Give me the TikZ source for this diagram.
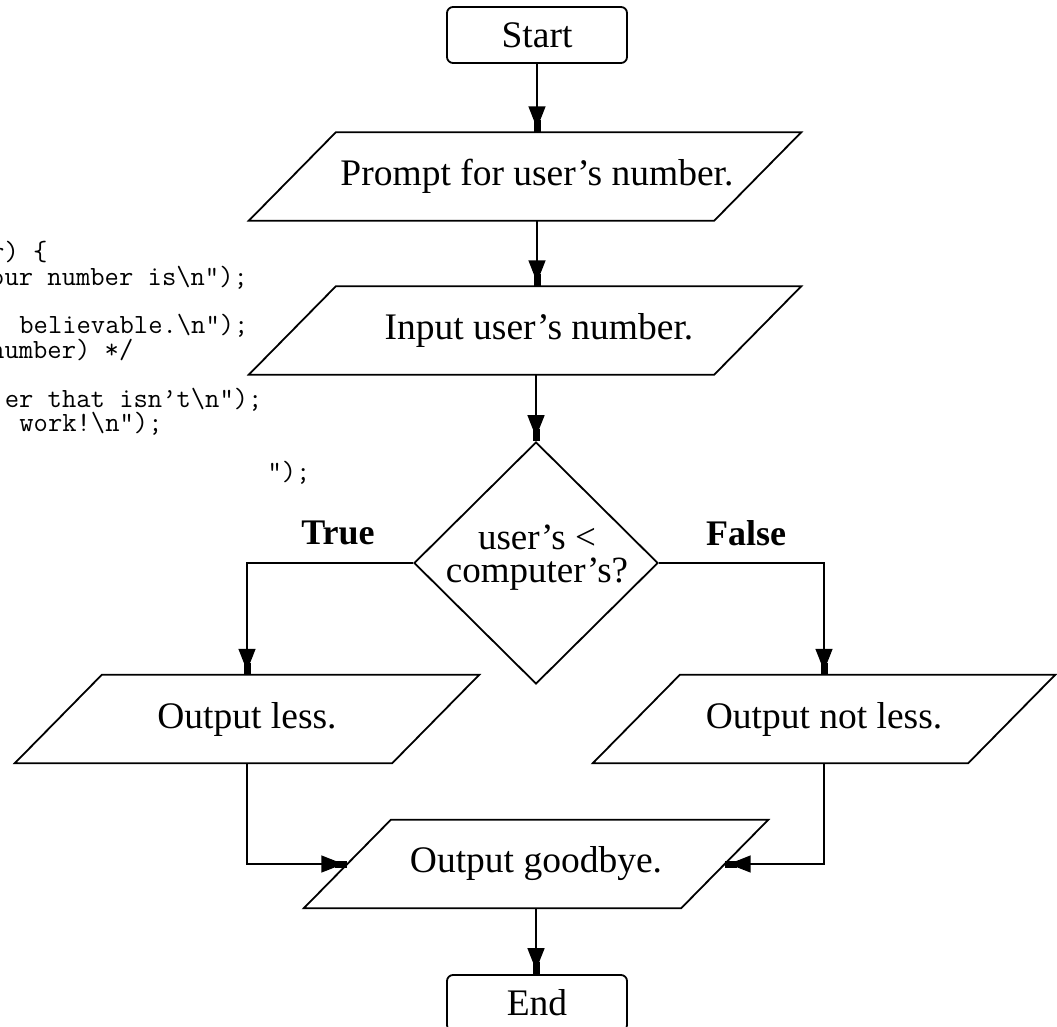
\documentclass[tikz,border=0pt]{standalone}
\usepackage{fontspec}
\setmainfont{Liberation Serif}
\usetikzlibrary{arrows.meta,shapes.geometric}

\tikzset{
  flowline/.style={line width=1.5pt},
  arr/.style={flowline, -{Triangle[width=17pt,length=22pt,sep=-8pt]Square[width=7pt,length=12pt]}},
  outline/.style={line width=1.8pt, line join=miter},
  terminal/.style={draw, outline, rounded corners=6pt, minimum width=180pt,
    minimum height=56pt, inner sep=0pt, font=\fontsize{37.5}{40}\selectfont},
  iobody/.style={minimum height=88pt, inner sep=0pt},
  iotext/.style={inner sep=0pt, font=\fontsize{37.5}{40}\selectfont},
  decision/.style={draw, outline, diamond, minimum width=244pt, minimum height=242pt, inner sep=0pt},
  dectext/.style={align=center, inner sep=0pt, font=\fontsize{37}{33}\selectfont},
  branch/.style={inner sep=0pt, font=\bfseries\fontsize{36}{40}\selectfont},
  code/.style={anchor=base west, inner sep=0pt, font=\ttfamily\fontsize{27.8}{24.4}\selectfont},
}

% input/output box: a parallelogram around a named body node
\newcommand\slantframe[1]{%
  \draw[outline] ([xshift=-43.5pt]#1.south west) -- ([xshift=-43.5pt]#1.south east)
    -- ([xshift=43.5pt]#1.north east) -- ([xshift=43.5pt]#1.north west) -- cycle;}

\begin{document}
\begin{tikzpicture}[x=1pt,y=-1pt]
  \fill[white] (0,0) rectangle (1057,1027);
  \useasboundingbox (0,0) rectangle (1057,1027);

  % program listing beside the chart (monospaced columns 14.6pt wide)
  \node[code] (c0) at (-10,260.5) {r) \{};
  \node[code] (c1) at (-10,285) {our number is\textbackslash n");};
  \node[code] (c3) at (19.2,333.5) {believable.\textbackslash n");};
  \node[code] (c4) at (-10,358) {number) */};
  \node[code] (c6) at (4.6,407) {er that isn’t\textbackslash n");};
  \node[code] (c7) at (19.2,431.5) {work!\textbackslash n");};
  \node[code] (c9) at (267.4,480) {");};

  % flowchart
  \node[terminal] (start) at (537,35) {Start};

  \node[iobody, minimum width=465pt] (prompt) at (525,176.5) {};
  \slantframe{prompt}
  \node[iotext] (promptlabel) at ([xshift=12pt]prompt.center) {Prompt for user’s number.};

  \node[iobody, minimum width=465pt] (input) at (525,330.5) {};
  \slantframe{input}
  \node[iotext] (inputlabel) at ([xshift=14pt]input.center) {Input user’s number.};

  \node[decision] (dec) at (536,563) {};
  \node[dectext] (q) at (537,558) {user’s <\\computer’s?};

  \node[iobody, minimum width=377pt] (less) at (247,719) {};
  \slantframe{less}
  \node[iotext] (lesslabel) at (less.center) {Output less.};

  \node[iobody, minimum width=375pt] (notless) at (824,719) {};
  \slantframe{notless}
  \node[iotext] (notlesslabel) at (notless.center) {Output not less.};

  \node[iobody, minimum width=377pt] (bye) at (536,864) {};
  \slantframe{bye}
  \node[iotext] (byelabel) at (bye.center) {Output goodbye.};

  \node[terminal] (end) at (537,1003) {End};

  \node[branch] (t) at (338,533) {True};
  \node[branch] (f) at (746,533) {False};

  % connectors
  \draw[arr] (start.south) -- (start.south |- prompt.north);
  \draw[arr] (start.south |- prompt.south) -- (start.south |- input.north);
  \draw[arr] (dec.north |- input.south) -- (dec.north);
  \draw[arr] (dec.west) -| (less.north);
  \draw[arr] (dec.east) -| (notless.north);
  \draw[arr] (less.south) |- (bye.west);
  \draw[arr] (notless.south) |- (bye.east);
  \draw[arr] (bye.south) -- (bye.south |- end.north);
\end{tikzpicture}
\end{document}
